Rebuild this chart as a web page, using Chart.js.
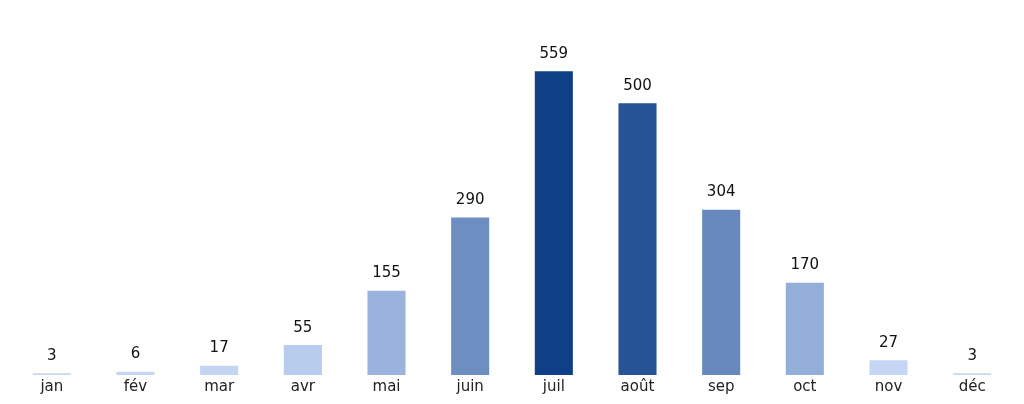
<!DOCTYPE html>
<html>
<head>
<meta charset="utf-8">
<script src="https://cdn.jsdelivr.net/npm/chart.js@4/dist/chart.umd.min.js"></script>
<style>
html,body{margin:0;padding:0;background:#fff;}
#wrap{width:1024px;height:404px;position:relative;}
</style>
</head>
<body>
<div id="wrap"><canvas id="c"></canvas></div>
<script>
const months = ["jan","fév","mar","avr","mai","juin","juil","août","sep","oct","nov","déc"];
const counts = [3,6,17,55,155,290,559,500,304,170,27,3];
const barColors = ["#c7d8f3","#c5d6f2","#c3d5f3","#b8ccee","#9bb3dc","#6d8ec0","#0f3f87","#255396","#6789bd","#93afd9","#c4d6f4","#c7d8f3"];

const valueLabels = {
  id: 'valueLabels',
  afterDatasetsDraw(chart) {
    const ctx = chart.ctx;
    const meta = chart.getDatasetMeta(0);
    ctx.save();
    ctx.font = '15px "DejaVu Sans"';
    ctx.fillStyle = '#111';
    ctx.textAlign = 'center';
    ctx.textBaseline = 'bottom';
    meta.data.forEach((bar, i) => {
      ctx.fillText(String(counts[i]), bar.x, bar.y - 10);
    });
    ctx.restore();
  }
};

new Chart(document.getElementById('c'), {
  type: 'bar',
  data: {
    labels: months,
    datasets: [{
      data: counts,
      backgroundColor: barColors,
      borderWidth: 0,
      barPercentage: 1,
      categoryPercentage: 0.455
    }]
  },
  options: {
    responsive: true,
    maintainAspectRatio: false,
    animation: false,
    layout: { padding: { top: 49, left: 10, right: 10, bottom: 5 } },
    plugins: { legend: { display: false }, tooltip: { enabled: false } },
    scales: {
      x: {
        grid: { display: false, drawTicks: false },
        border: { display: false },
        ticks: { color: '#222', font: { family: 'DejaVu Sans', size: 15 }, padding: 3 }
      },
      y: { display: false, min: 0, max: 600 }
    }
  },
  plugins: [valueLabels]
});
</script>
</body>
</html>
